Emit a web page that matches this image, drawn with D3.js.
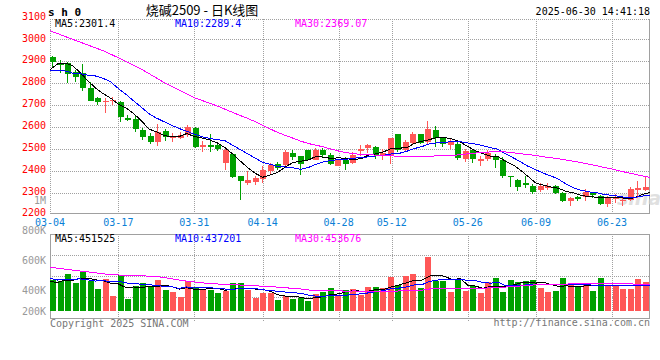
<!DOCTYPE html>
<html>
<head>
<meta charset="utf-8">
<script src="https://cdn.jsdelivr.net/npm/d3@7"></script>
<style>
  body { margin: 0; background: #fff; }
  svg text { font-family: "DejaVu Sans Mono", monospace; font-size: 10px; }
</style>
</head>
<body>
<svg id="chart" width="660" height="360"></svg>
<script>
"use strict"

// trading days shown, 2025-03-04 .. 2025-06-30
const dates = [
  "03-04","03-05","03-06","03-07","03-10","03-11","03-12","03-13","03-14","03-17",
  "03-18","03-19","03-20","03-21","03-24","03-25","03-26","03-27","03-28","03-31",
  "04-01","04-02","04-03","04-07","04-08","04-09","04-10","04-11","04-14","04-15",
  "04-16","04-17","04-18","04-21","04-22","04-23","04-24","04-25","04-28","04-29",
  "04-30","05-06","05-07","05-08","05-09","05-12","05-13","05-14","05-15","05-16",
  "05-19","05-20","05-21","05-22","05-23","05-26","05-27","05-28","05-29","05-30",
  "06-03","06-04","06-05","06-06","06-09","06-10","06-11","06-12","06-13","06-16",
  "06-17","06-18","06-19","06-20","06-23","06-24","06-25","06-26","06-27","06-30"
]

const open = [
  2920,2889,2889,2851,2844,2779,2733,2712,2718,2715, 2642,2636,2586,2558,2532,2581,2548,2548,2563,2593,
  2510,2517,2517,2433,2476,2378,2346,2348,2363,2398, 2429,2424,2481,2466,2493,2450,2496,2470,2421,2450,
  2435,2490,2504,2508,2470,2473,2566,2496,2527,2566, 2531,2585,2547,2519,2521,2453,2494,2445,2453,2468,
  2450,2374,2359,2342,2332,2312,2320,2330,2297,2261, 2279,2282,2297,2286,2250,2271,2261,2267,2312,2314
]
const high = [
  2921,2905,2894,2860,2886,2803,2737,2733,2734,2717, 2653,2650,2596,2573,2613,2589,2573,2578,2609,2598,
  2537,2567,2532,2502,2482,2378,2399,2375,2420,2435, 2440,2496,2493,2466,2496,2505,2505,2481,2455,2463,
  2485,2516,2524,2511,2501,2550,2566,2542,2577,2569, 2626,2605,2555,2544,2539,2498,2498,2468,2494,2476,
  2461,2377,2362,2377,2339,2342,2342,2335,2302,2279, 2286,2316,2300,2290,2286,2294,2282,2324,2351,2370
]
const low = [
  2866,2845,2798,2806,2765,2716,2700,2665,2700,2624, 2627,2578,2540,2522,2513,2537,2532,2543,2552,2502,
  2487,2487,2492,2403,2365,2267,2335,2333,2345,2379, 2405,2417,2447,2382,2447,2447,2458,2425,2420,2401,
  2432,2466,2481,2452,2447,2432,2485,2489,2524,2524, 2524,2508,2508,2500,2448,2438,2433,2423,2445,2412,
  2365,2327,2309,2320,2294,2305,2312,2294,2256,2238, 2264,2264,2276,2244,2233,2252,2241,2264,2274,2309
]
const close = [
  2897,2882,2841,2829,2779,2718,2715,2716,2722,2646, 2631,2590,2555,2531,2578,2552,2554,2563,2601,2510,
  2517,2510,2499,2494,2370,2355,2358,2366,2401,2424, 2414,2485,2461,2432,2450,2496,2470,2432,2447,2432,
  2470,2497,2516,2470,2481,2550,2496,2531,2566,2528, 2589,2547,2524,2533,2460,2488,2452,2453,2479,2450,
  2377,2372,2327,2335,2305,2330,2330,2297,2261,2276, 2271,2302,2288,2250,2276,2279,2266,2315,2320,2327
]
const volume = [
  495600,484500,533000,473000,547000,489000,433000,500000,389000,524500,
  367000,455600,473000,444500,495600,429000,413000,382000,489000,449000,
  427000,427000,407000,418000,473000,473000,429000,373000,407000,407000,
  360000,384500,369000,373000,355700,400000,413000,442000,394000,430000,
  433000,396000,447000,447000,440000,513000,458000,522000,533000,440000,
  647000,484500,484500,413000,495600,422000,451000,407000,480000,507000,
  413000,493000,480000,487000,493000,440000,413000,422000,507000,458000,
  451000,462000,422000,507000,458000,451000,433000,436000,500000,480000
]

// sessions before 03-04, estimated from where the moving averages start
const earlierClose = [
  3272,3231,3219,3169,3108,3105,3105,3202,3126,3147,3106,3071,3131,3190,3164,
  3076,3085,3123,3032,2892,2885,2874,2926,2802,2787,2752,2821,2889,2944
]
const earlierVolume = [
  668500,717000,657000,731000,673000,617000,684000,573000,582500,425000,513600,531000,502500,553600,664000,
  648000,617000,724000,618000,596000,596000,468000,479000,534000,554000,510000,454000,488000,467000
]

const tickLabels = ["03-04","03-17","03-31","04-14","04-28","05-12","05-26","06-09","06-23"]
const priceTicks = [3100,3000,2900,2800,2700,2600,2500,2400,2300,2200]
const volTicks = [1000000,800000,600000,400000,200000]
const volTickLabels = ["1M","800K","600K","400K","200K"]

const maPeriods = [5, 10, 30]
const maColors = ["#000", "#00f", "#f0f"]
const priceMaNow = [2301.4, 2289.4, 2369.07]
const volMaNow = [451525, 437201, 453676]

const RED = "#ff5757"
const GREEN = "#00a000"
const GRID = "#a0a0a0"

function movingAvg(values, before, n) {
  const all = before.concat(values)
  return values.map((v, i) => {
    const end = i + before.length + 1
    return d3.mean(all.slice(end - n, end))
  })
}

const svg = d3.select("#chart")

const xLine = d3.scalePoint().domain(d3.range(dates.length)).range([50, 650])
const xBar = d3.scaleBand().domain(d3.range(dates.length)).range([50.5, 650.5])
const yPrice = d3.scaleLinear().domain([2200, 3100]).range([214.6, 17.1])
const yVol = d3.scaleLinear().domain([289000, 800000]).range([310.7, 234])

const tickIdx = tickLabels.map(t => dates.indexOf(t))
const barLeft = i => Math.floor(xBar(i))
const up = i => close[i] >= open[i]

// ---- grid and frames
const grid = svg.append("g").attr("shape-rendering", "crispEdges")

grid.selectAll(".hp").data(priceTicks.slice(1, -1)).join("line")
  .attr("x1", 50).attr("x2", 650)
  .attr("y1", d => Math.round(yPrice(d)) + 0.5).attr("y2", d => Math.round(yPrice(d)) + 0.5)
  .attr("stroke", GRID).attr("stroke-dasharray", "1,1")

const volTop = 234, volBottom = 318
grid.selectAll(".hv").data([1, 2, 3]).join("line")
  .attr("x1", 50).attr("x2", 650)
  .attr("y1", k => volTop + Math.round(k * (volBottom - volTop) / 4) + 0.5)
  .attr("y2", k => volTop + Math.round(k * (volBottom - volTop) / 4) + 0.5)
  .attr("stroke", GRID).attr("stroke-dasharray", "1,1")

grid.selectAll(".vg").data(tickIdx.slice(1)).join("line")
  .attr("x1", i => Math.round(xLine(i)) + 0.5).attr("x2", i => Math.round(xLine(i)) + 0.5)
  .attr("y1", 19).attr("y2", 214)
  .attr("stroke", GRID).attr("stroke-dasharray", "1,1")

grid.selectAll(".vg2").data(tickIdx.slice(1)).join("line")
  .attr("x1", i => Math.round(xLine(i)) + 0.5).attr("x2", i => Math.round(xLine(i)) + 0.5)
  .attr("y1", volTop).attr("y2", 321)
  .attr("stroke", GRID).attr("stroke-dasharray", "1,1")

// main frame: dotted top/left, solid right/bottom
grid.append("line").attr("x1", 50).attr("x2", 650).attr("y1", 19.5).attr("y2", 19.5)
  .attr("stroke", GRID).attr("stroke-dasharray", "1,1")
grid.append("line").attr("x1", 50.5).attr("x2", 50.5).attr("y1", 19).attr("y2", 214)
  .attr("stroke", GRID).attr("stroke-dasharray", "1,1")
grid.append("line").attr("x1", 649.5).attr("x2", 649.5).attr("y1", 19).attr("y2", 214)
  .attr("stroke", GRID)
grid.append("line").attr("x1", 50).attr("x2", 650).attr("y1", 213.5).attr("y2", 213.5)
  .attr("stroke", GRID)

grid.append("rect")
  .attr("x", 50.5).attr("y", volTop + 0.5)
  .attr("width", 599).attr("height", volBottom - volTop)
  .attr("fill", "none").attr("stroke", GRID)

// ---- watermark
svg.append("text")
  .attr("x", 617).attr("y", 205)
  .style("font-family", "DejaVu Sans").style("font-size", "19px")
  .style("font-style", "italic").style("font-weight", "bold")
  .attr("fill", "#d4d4d4").attr("opacity", 0.7)
  .text("sina")

// ---- candles
const candles = svg.append("g").attr("shape-rendering", "crispEdges")
  .selectAll("g").data(dates).join("g")
  .attr("fill", (d, i) => up(i) ? RED : GREEN)

candles.append("rect")
  .attr("x", (d, i) => barLeft(i) + 2)
  .attr("width", 1)
  .attr("y", (d, i) => Math.round(yPrice(high[i])))
  .attr("height", (d, i) => Math.max(1, Math.round(yPrice(low[i])) - Math.round(yPrice(high[i]))))

candles.append("rect")
  .attr("x", (d, i) => barLeft(i))
  .attr("width", 6)
  .attr("y", (d, i) => Math.round(yPrice(Math.max(open[i], close[i]))))
  .attr("height", (d, i) => Math.max(1,
    Math.round(yPrice(Math.min(open[i], close[i]))) - Math.round(yPrice(Math.max(open[i], close[i])))))

// ---- volume bars
const volBase = Math.round(yVol(yVol.domain()[0]))
svg.append("g").attr("shape-rendering", "crispEdges")
  .selectAll("rect").data(volume).join("rect")
  .attr("x", (d, i) => barLeft(i))
  .attr("width", 6)
  .attr("y", d => Math.round(yVol(d)))
  .attr("height", d => volBase - Math.round(yVol(d)))
  .attr("fill", (d, i) => up(i) ? RED : GREEN)

// ---- moving average lines
const priceLine = d3.line().x((d, i) => xLine(i)).y(d => yPrice(d))
const volLine = d3.line().x((d, i) => xLine(i)).y(d => yVol(d))

maPeriods.forEach((n, k) => {
  svg.append("path")
    .attr("d", priceLine(movingAvg(close, earlierClose, n)))
    .attr("fill", "none").attr("stroke", maColors[k]).attr("stroke-width", 1)
    .attr("shape-rendering", "crispEdges")
  svg.append("path")
    .attr("d", volLine(movingAvg(volume, earlierVolume, n)))
    .attr("fill", "none").attr("stroke", maColors[k]).attr("stroke-width", 1)
    .attr("shape-rendering", "crispEdges")
})

// ---- texts
const maX = [55, 175, 295]
maPeriods.forEach((n, k) => {
  svg.append("text").attr("x", maX[k]).attr("y", 27).attr("fill", maColors[k])
    .text("MA" + n + ":" + priceMaNow[k])
  svg.append("text").attr("x", maX[k]).attr("y", 242).attr("fill", maColors[k])
    .text("MA" + n + ":" + volMaNow[k])
})

svg.selectAll(".py").data(priceTicks).join("text")
  .attr("x", 46).attr("y", d => Math.min(yPrice(d) - 1, 212.4)).attr("dy", "0.35em")
  .attr("text-anchor", "end").attr("fill", "#f00")
  .text(d => d)

svg.selectAll(".vy").data(volTicks).join("text")
  .attr("x", 46).attr("y", d => Math.min(yVol(d) - 3.3, 311)).attr("dy", "0.35em")
  .attr("text-anchor", "end").attr("fill", "#999")
  .text((d, i) => volTickLabels[i])

svg.selectAll(".xl").data(tickIdx).join("text")
  .attr("x", i => xLine(i)).attr("y", 225.5)
  .attr("text-anchor", "middle").attr("fill", "#0a7fd6")
  .text(i => dates[i])

svg.append("text").attr("x", 48).attr("y", 15.5)
  .style("font-size", "11px").style("font-weight", "bold")
  .text("s h 0")

svg.append("text").attr("x", 202).attr("y", 15).attr("text-anchor", "middle")
  .style("font-family", "'Noto Sans CJK SC', sans-serif").style("font-size", "13px")
  .text("烧碱2509 - 日K线图")

svg.append("text").attr("x", 650).attr("y", 15).attr("text-anchor", "end")
  .text("2025-06-30 14:41:18")

svg.append("text").attr("x", 50).attr("y", 327).attr("fill", "#777")
  .text("Copyright 2025 SINA.COM")

svg.append("text").attr("x", 650).attr("y", 326).attr("text-anchor", "end").attr("fill", "#777")
  .text("http://finance.sina.com.cn")
</script>
</body>
</html>
